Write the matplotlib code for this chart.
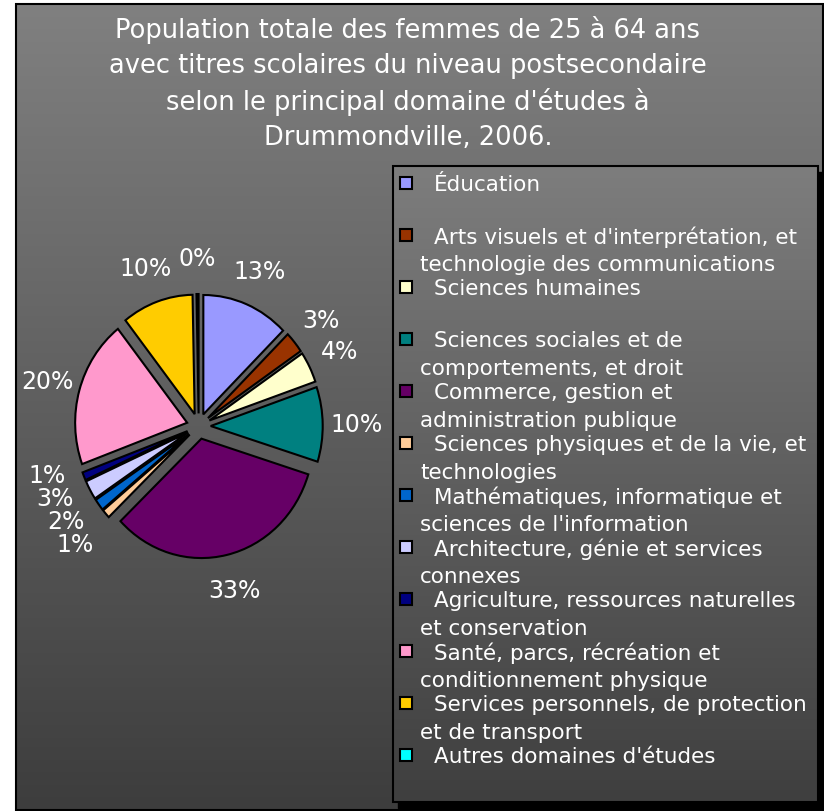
import numpy as np
import matplotlib
matplotlib.use("Agg")
import matplotlib.pyplot as plt
from matplotlib.colors import LinearSegmentedColormap
from matplotlib.patches import Rectangle

W, H = 824, 812
YSTRETCH = 1.066  # the source picture is slightly taller than wide

title_lines = [
    "Population totale des femmes de 25 à 64 ans",
    "avec titres scolaires du niveau postsecondaire",
    "selon le principal domaine d'études à",
    "Drummondville, 2006.",
]

domains = [
    "Éducation",
    "Arts visuels et d'interprétation, et\ntechnologie des communications",
    "Sciences humaines",
    "Sciences sociales et de\ncomportements, et droit",
    "Commerce, gestion et\nadministration publique",
    "Sciences physiques et de la vie, et\ntechnologies",
    "Mathématiques, informatique et\nsciences de l'information",
    "Architecture, génie et services\nconnexes",
    "Agriculture, ressources naturelles\net conservation",
    "Santé, parcs, récréation et\nconditionnement physique",
    "Services personnels, de protection\net de transport",
    "Autres domaines d'études",
]
shares = [12.6, 2.9, 4.2, 10.1, 33.0, 1.2, 1.6, 2.6, 1.1, 20.0, 10.3, 0.3]
colors = ["#9999FF", "#993300", "#FFFFCC", "#008080", "#660066", "#FFCC99",
          "#0066CC", "#CCCCFF", "#000080", "#FF99CC", "#FFCC00", "#00FFFF"]

plt.rcParams["font.family"] = ["DejaVu Sans"]
fig = plt.figure(figsize=(W / 100, H / 100), dpi=100)
fig.patch.set_facecolor("white")

# pixel-coordinate axes for background, title and legend
ax = fig.add_axes([0, 0, 1, 1])
ax.set_xlim(0, W)
ax.set_ylim(H, 0)
ax.axis("off")

grad = LinearSegmentedColormap.from_list("bg", ["#808080", "#3d3d3d"])
ramp = np.linspace(0, 1, 256)[:, None]
ax.imshow(ramp, cmap=grad, extent=(16, 823, 811, 5), aspect="auto", zorder=0)
ax.add_patch(Rectangle((16, 5), 807, 806, fill=False, edgecolor="black", lw=1.5, zorder=1))

for i, line in enumerate(title_lines):
    ax.text(408, 30 + i * 36, line, ha="center", va="center", color="white", fontsize=18.5, zorder=5)

# legend box with shadow
lx0, ly0, lx1, ly1 = 393, 167, 818, 803
ax.add_patch(Rectangle((lx0 + 5, ly0 + 6), lx1 - lx0, ly1 - ly0, color="black", zorder=2))
ax.imshow(ramp, cmap=LinearSegmentedColormap.from_list("lg", ["#7d7d7d", "#3f3f3f"]),
          extent=(lx0, lx1, ly1, ly0), aspect="auto", zorder=3)
ax.add_patch(Rectangle((lx0, ly0), lx1 - lx0, ly1 - ly0, fill=False, edgecolor="black", lw=1.5, zorder=4))

for i, (name, c) in enumerate(zip(domains, colors)):
    y = 185 + i * 52
    ax.add_patch(Rectangle((400, y - 7), 12, 12, facecolor=c, edgecolor="black", lw=1.5, zorder=5))
    parts = name.split("\n")
    ax.text(434, y, parts[0], ha="left", va="center", color="white", fontsize=15.5, zorder=5)
    if len(parts) > 1:
        ax.text(420, y + 28, parts[1], ha="left", va="center", color="white", fontsize=15.5, zorder=5)

# pie in its own axes, stretched a little vertically like the source
pax = fig.add_axes([0, 0, 1, 1])
pax.patch.set_alpha(0)
wedges, texts, autotexts = pax.pie(
    shares, colors=colors, startangle=90, counterclock=False, radius=112,
    center=(198.7, (H - 427.2) / YSTRETCH), explode=[12] * len(shares),
    wedgeprops=dict(edgecolor="black", linewidth=1.5),
    autopct="%1.0f%%", pctdistance=1.3,
    textprops=dict(color="white", fontsize=17))
pax.set_aspect("auto")
pax.set_xlim(0, W)
pax.set_ylim(0, H / YSTRETCH)
pax.axis("off")

# the four thin slices at lower left: stack their labels so they don't collide
small = [autotexts[k] for k in (5, 6, 7, 8)]
gap = 23 / YSTRETCH
base_y = small[0].get_position()[1] - 6 / YSTRETCH
for j, t in enumerate(small):
    x, _ = t.get_position()
    t.set_position((x - 6, base_y + j * gap))

fig.savefig("out.png", dpi=100)
